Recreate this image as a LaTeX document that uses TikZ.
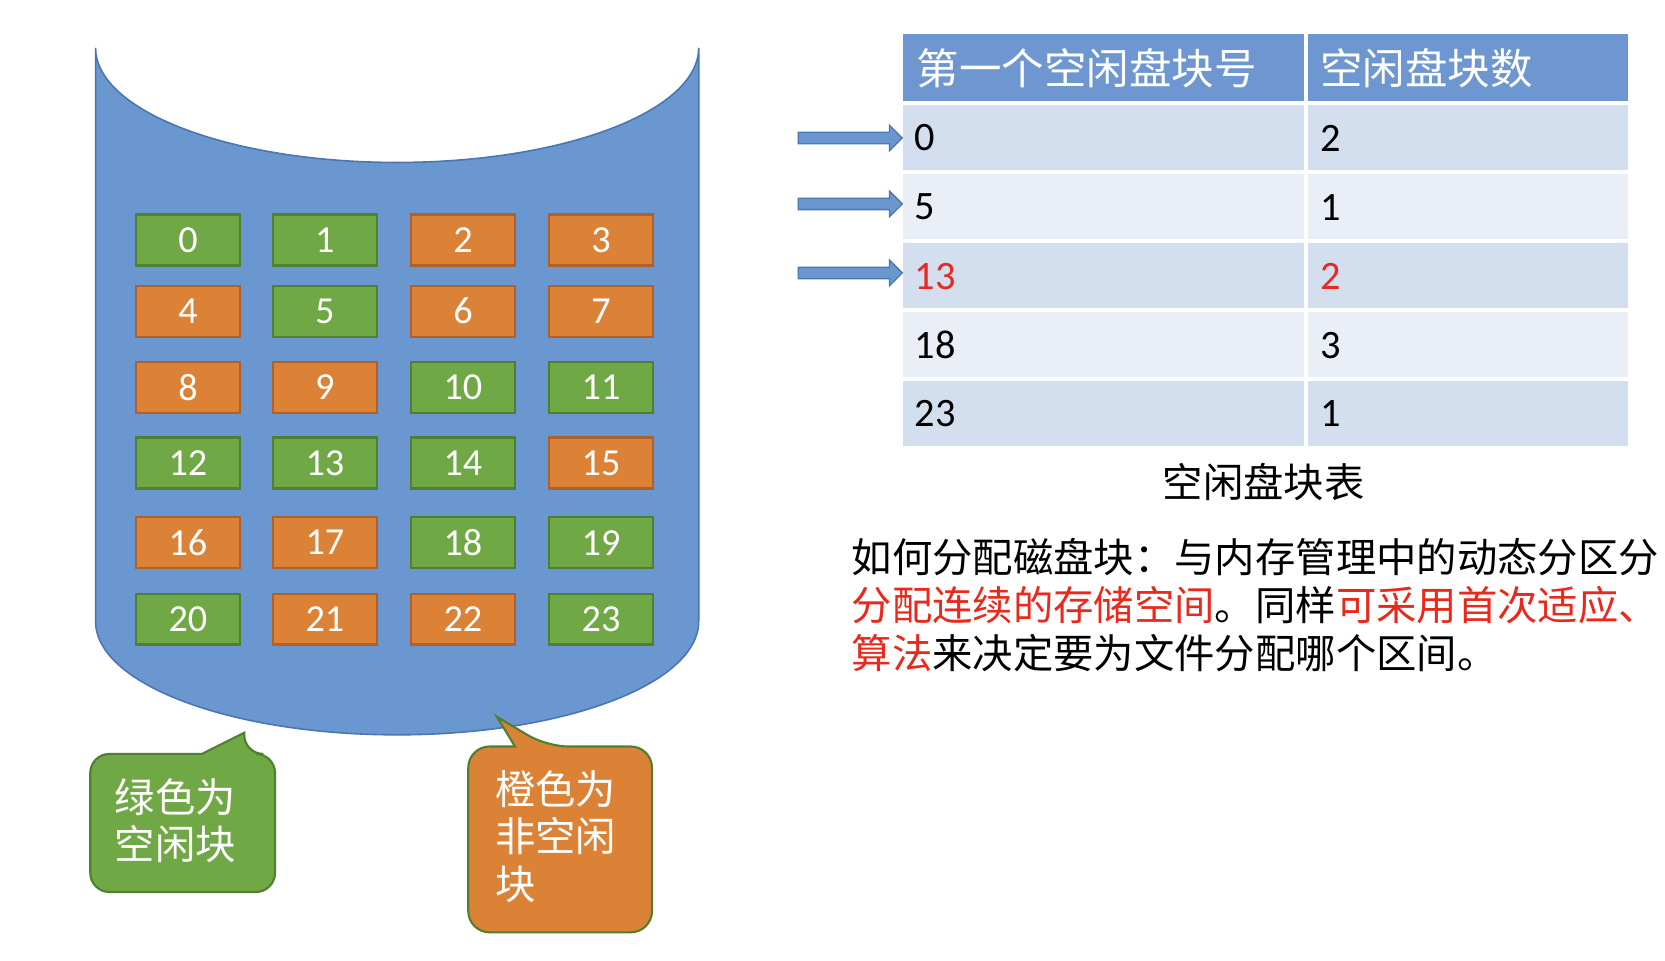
\documentclass[tikz,border=0pt]{standalone}
\usepackage{fontspec}
\setmainfont{Carlito}
\newfontfamily\cjk{Noto Sans CJK SC}
\usetikzlibrary{shapes.arrows}
\definecolor{cylb}{HTML}{6B97D0}
\definecolor{cylbd}{HTML}{4A76B2}
\definecolor{gr}{HTML}{70A845}
\definecolor{grd}{HTML}{4F7F30}
\definecolor{orf}{HTML}{DC8237}
\definecolor{ord}{HTML}{B0602A}
\definecolor{hdr}{HTML}{6E97D1}
\definecolor{rowa}{HTML}{D3DEEF}
\definecolor{rowb}{HTML}{E9EEF7}
\definecolor{rd}{HTML}{E8291C}
\tikzset{
 blk/.style={minimum width=98pt,minimum height=48pt,line width=2pt,text=white,font=\fontsize{36}{40}\selectfont,inner sep=0pt},
 gblk/.style={blk,fill=gr,draw=grd},
 oblk/.style={blk,fill=orf,draw=ord},
 cell/.style={anchor=west,font=\fontsize{38}{42}\selectfont},
 parr/.style={single arrow,fill=cylb,draw=cylbd,line width=1.2pt,minimum height=98pt,minimum width=24pt,single arrow head extend=5pt,inner sep=3.5pt,single arrow head indent=0pt},
 ptxt/.style={anchor=west,font=\cjk\fontsize{38}{40}\selectfont,inner sep=0pt}
}
\begin{document}
\begin{tikzpicture}[x=1pt,y=-1pt]
\useasboundingbox (0,0) rectangle (1568,905);
\fill[white] (0,0) rectangle (1568,905);
% cylinder
\draw[fill=cylb,draw=cylbd,line width=1.5pt] (90,45) arc[start angle=180,end angle=360,x radius=284,y radius=-108] -- (658,585) arc[start angle=0,end angle=-180,x radius=284,y radius=-107] -- cycle;
% blocks
\foreach \n/\c/\x/\y in {0/g/177/226,1/g/306/226,2/o/436/226,3/o/566/226,
4/o/177/293,5/g/306/293,6/o/436/293,7/o/566/293,
8/o/177/365,9/o/306/365,10/g/436/365,11/g/566/365,
12/g/177/436,13/g/306/436,14/g/436/436,15/o/566/436,
16/o/177/511,17/o/306/511,18/g/436/511,19/g/566/511,
20/g/177/583,21/o/306/583,22/o/436/583,23/g/566/583}
 \node[\c blk] (b\n) at (\x,\y) {\n};
% callouts
\draw[fill=gr,draw=grd,line width=2pt,rounded corners=18pt] (85,775) -- (85,840) -- (259,840) -- (259,710) -- (230,710) [sharp corners]-- (230,690) -- (190,710) [rounded corners=18pt] -- (85,710) -- (85,775);
\node[text=white,font=\cjk\fontsize{38}{44}\selectfont,align=left,anchor=north west,inner sep=0pt] (g1) at (108,733) {绿色为\\空闲块};
\draw[fill=orf,draw=grd,line width=2pt,rounded corners=20pt] (441,790) -- (441,878) -- (614,878) -- (614,703) -- (515,703) [sharp corners]-- (468,675) -- (485,703) [rounded corners=20pt] -- (441,703) -- (441,790);
\node[text=white,font=\cjk\fontsize{38}{45}\selectfont,align=left,anchor=north west,inner sep=0pt] (o1) at (466,725) {橙色为\\非空闲\\块};
% table
\fill[hdr] (850,32) rectangle (1533,95);
\fill[rowa] (850,97) rectangle (1533,162);
\fill[rowb] (850,162) rectangle (1533,227);
\fill[rowa] (850,227) rectangle (1533,292);
\fill[rowb] (850,292) rectangle (1533,357);
\fill[rowa] (850,357) rectangle (1533,420);
\foreach \yy in {97,162,227,292,357} \draw[white,line width=3pt] (850,\yy) -- (1533,\yy);
\draw[white,line width=4pt] (1230,32) -- (1230,420);
\node[anchor=west,text=white,font=\cjk\fontsize{40}{42}\selectfont] (h1) at (860,64) {第一个空闲盘块号};
\node[anchor=west,text=white,font=\cjk\fontsize{40}{42}\selectfont] (h2) at (1240,64) {空闲盘块数};
\node[cell] (r1a) at (858,130) {0}; \node[cell] (r1b) at (1240,130) {2};
\node[cell] (r2a) at (858,195) {5}; \node[cell] (r2b) at (1240,195) {1};
\node[cell,text=rd] (r3a) at (858,260) {13}; \node[cell,text=rd] (r3b) at (1240,260) {2};
\node[cell] (r4a) at (858,325) {18}; \node[cell] (r4b) at (1240,325) {3};
\node[cell] (r5a) at (858,389) {23}; \node[cell] (r5b) at (1240,389) {1};
\node[parr] (a1) at (798,130) {};
\node[parr] (a2) at (798,192) {};
\node[parr] (a3) at (798,257) {};
\node[font=\cjk\fontsize{38}{40}\selectfont] (cap) at (1190,454) {空闲盘块表};
\node[ptxt] (p1) at (802,525) {如何分配磁盘块：与内存管理中的动态分区分};
\node[ptxt] (p2) at (802,570) {\color{rd}分配连续的存储空间\color{black}。同样\color{rd}可采用首次适应、};
\node[ptxt] (p3) at (802,615) {\color{rd}算法\color{black}来决定要为文件分配哪个区间。};
\end{tikzpicture}
\end{document}
